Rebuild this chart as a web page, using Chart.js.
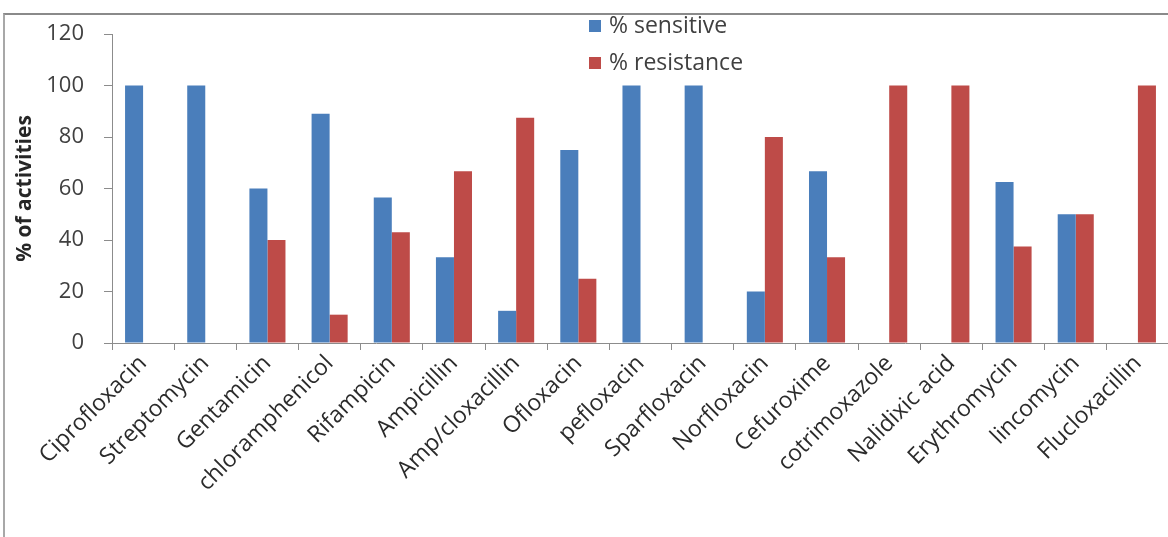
<!DOCTYPE html>
<html>
<head>
<meta charset="utf-8">
<title>Antibiotic sensitivity</title>
<script src="https://cdn.jsdelivr.net/npm/chart.js@4/dist/chart.umd.min.js"></script>
<style>
  html, body { margin: 0; padding: 0; background: #fff; overflow: hidden; }
  body { width: 1168px; height: 537px; position: relative; }
  #frame {
    position: absolute; left: 3px; top: 13px; right: -4px; bottom: -4px;
    border-left: 2px solid #a8a8a8; border-top: 2px solid #8a8a8a;
  }
  #wrap { position: absolute; left: 0; top: 0; width: 1172px; height: 537px; }
</style>
</head>
<body>
<div id="frame"></div>
<div id="wrap"><canvas id="chart" width="1172" height="537"></canvas></div>
<script>
// Antibiotics tested
const antibiotics = [
  'Ciprofloxacin', 'Streptomycin', 'Gentamicin', 'chloramphenicol', 'Rifampicin',
  'Ampicillin', 'Amp/cloxacillin', 'Ofloxacin', 'pefloxacin', 'Sparfloxacin',
  'Norfloxacin', 'Cefuroxime', 'cotrimoxazole', 'Nalidixic acid', 'Erythromycin',
  'lincomycin', 'Flucloxacillin'
];

// Percentage of isolates sensitive / resistant to each antibiotic
const sensitive  = [100, 100, 60, 89, 56.5, 33.3, 12.5, 75, 100, 100, 20, 66.7, 0, 0, 62.5, 50, 0];
const resistance = [0, 0, 40, 11, 43, 66.7, 87.5, 25, 0, 0, 80, 33.3, 100, 100, 37.5, 50, 100];

const seriesNames = ['% sensitive', '% resistance'];
const seriesColors = ['#4a7ebb', '#be4b48'];

const FONT = '"Open Sans", Lato, sans-serif';

// Two-row legend drawn in the upper middle of the chart
const stackedLegend = {
  id: 'stackedLegend',
  afterDraw(chart) {
    const ctx = chart.ctx;
    ctx.save();
    ctx.font = '23px ' + FONT;
    ctx.textBaseline = 'middle';
    ctx.textAlign = 'left';
    const rows = [26, 63];
    chart.data.datasets.forEach((ds, i) => {
      ctx.fillStyle = ds.backgroundColor;
      ctx.fillRect(589, rows[i] - 6, 12, 12);
      ctx.fillStyle = '#404040';
      ctx.fillText(ds.label, 609, rows[i]);
    });
    ctx.restore();
  }
};

new Chart(document.getElementById('chart'), {
  type: 'bar',
  data: {
    labels: antibiotics,
    datasets: [
      { label: seriesNames[0], data: sensitive, backgroundColor: seriesColors[0] },
      { label: seriesNames[1], data: resistance, backgroundColor: seriesColors[1] }
    ]
  },
  options: {
    responsive: false,
    animation: false,
    layout: { padding: { top: 34, right: 3, left: 0, bottom: 0 } },
    datasets: { bar: { categoryPercentage: 0.58, barPercentage: 1, borderWidth: 0 } },
    plugins: {
      legend: { display: false },
      tooltip: { enabled: false }
    },
    scales: {
      x: {
        grid: { offset: true, drawOnChartArea: false, tickLength: 7, color: '#8c8c8c' },
        border: { color: '#8c8c8c' },
        ticks: {
          minRotation: 45, maxRotation: 45, autoSkip: false,
          font: { family: FONT, size: 23 }, color: '#2b2b2b', padding: 0
        },
        afterFit(scale) { scale.height = 194; }
      },
      y: {
        min: 0, max: 120,
        grid: { drawOnChartArea: false, tickLength: 8, color: '#8c8c8c' },
        border: { color: '#8c8c8c' },
        ticks: {
          stepSize: 20,
          font: { family: FONT, size: 22 }, color: '#404040', padding: 20
        },
        title: {
          display: true, text: '% of activities',
          font: { family: FONT, size: 21, weight: 'bold' }, color: '#262626',
          padding: { top: 12, bottom: 0 }
        },
        afterFit(scale) { scale.width = 112; }
      }
    }
  },
  plugins: [stackedLegend]
});
</script>
</body>
</html>
